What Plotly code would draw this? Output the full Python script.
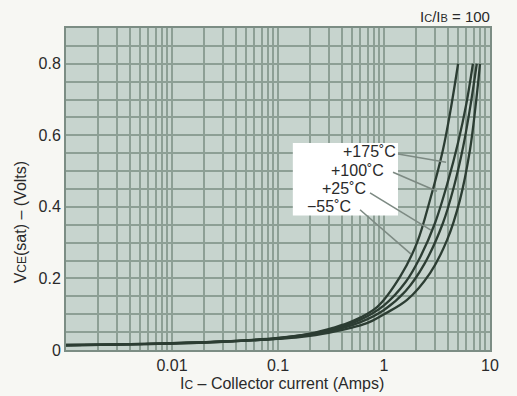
import plotly.graph_objects as go

# ---------------- data ----------------
temps = ["+175˚C", "+100˚C", "+25˚C", "−55˚C"]

ic_175 = [0.001, 0.003, 0.01, 0.03, 0.1, 0.2, 0.33, 0.5, 0.86, 1.42, 2.05, 2.72, 3.6, 4.3, 5.0]
vce_175 = [0.014, 0.016, 0.019, 0.024, 0.034, 0.046, 0.062, 0.08, 0.12, 0.205, 0.30, 0.42, 0.56, 0.68, 0.80]

ic_100 = [0.001, 0.003, 0.01, 0.03, 0.1, 0.3, 0.6, 1.0, 1.6, 2.2, 3.03, 4.0, 5.0, 6.0, 6.9]
vce_100 = [0.014, 0.016, 0.019, 0.024, 0.033, 0.055, 0.085, 0.125, 0.19, 0.26, 0.355, 0.47, 0.58, 0.69, 0.80]

ic_25 = [0.001, 0.003, 0.01, 0.03, 0.1, 0.3, 0.6, 1.0, 1.6, 2.4, 3.6, 4.6, 5.6, 6.6, 7.5]
vce_25 = [0.013, 0.015, 0.018, 0.023, 0.032, 0.052, 0.078, 0.112, 0.165, 0.24, 0.355, 0.46, 0.57, 0.69, 0.80]

ic_m55 = [0.001, 0.003, 0.01, 0.03, 0.1, 0.16, 0.3, 0.69, 1.0, 1.65, 2.72, 3.93, 5.2, 6.47, 7.3, 8.05]
vce_m55 = [0.013, 0.015, 0.018, 0.023, 0.031, 0.036, 0.048, 0.075, 0.10, 0.14, 0.215, 0.307, 0.419, 0.559, 0.68, 0.80]

# leader lines: (label-end point, curve point) in data units
leader_175 = ([1.355, 3.85], [0.548, 0.525])
leader_100 = ([1.216, 3.16], [0.497, 0.444])
leader_25 = ([0.738, 2.77], [0.439, 0.335])
leader_m55 = ([0.594, 1.80], [0.392, 0.268])

# ticks
decades = [0.001, 0.01, 0.1, 1]
x_grid = [m * d for d in decades for m in range(1, 10)] + [10]
x_major = [0.01, 0.1, 1, 10]
x_major_text = ["0.01", "0.1", "1", "10"]
x_text = [x_major_text[x_major.index(v)] if v in x_major else "" for v in x_grid]

y_grid = [round(0.05 * i, 2) for i in range(0, 19)]
y_major = [0, 0.2, 0.4, 0.6, 0.8]
y_major_text = ["0", "0.2", "0.4", "0.6", "0.8"]
y_text = [y_major_text[y_major.index(v)] if v in y_major else "" for v in y_grid]

# ---------------- figure ----------------
CURVE = "#2c3d33"
LEADER = "#7d8a83"
GRID = "#8d9f95"
BG = "#c7d4ce"
TXT = "#2a2a2a"
FONT = "Liberation Sans, Arial, sans-serif"

fig = go.Figure()

for xs, ys in [(ic_175, vce_175), (ic_100, vce_100), (ic_25, vce_25), (ic_m55, vce_m55)]:
    fig.add_trace(go.Scatter(x=xs, y=ys, mode="lines",
                             line=dict(color=CURVE, width=2.3, shape="spline", smoothing=1.0),
                             hoverinfo="skip", showlegend=False))

# white label box (above the grid)
fig.add_shape(type="rect", xref="paper", yref="paper",
              x0=0.535, x1=0.783, y0=0.418, y1=0.643,
              fillcolor="#ffffff", line=dict(width=0), layer="above")

# leader lines drawn on top of the box
for xs, ys in [leader_175, leader_100, leader_25, leader_m55]:
    fig.add_shape(type="line", xref="x", yref="y",
                  x0=xs[0], x1=xs[1], y0=ys[0], y1=ys[1],
                  line=dict(color=LEADER, width=1.6), layer="above")

label_pos = [(0.781, 0.615), (0.752, 0.559), (0.710, 0.503), (0.675, 0.447)]
for t, (px, py) in zip(temps, label_pos):
    fig.add_annotation(text=t, xref="paper", yref="paper", x=px, y=py,
                       xanchor="right", yanchor="middle", showarrow=False,
                       borderpad=0,
                       font=dict(family=FONT, size=16, color=TXT))

# axis titles / header as annotations
fig.add_annotation(text="I<span style='font-size:12px'>C</span> – Collector current (Amps)",
                   xref="paper", yref="paper", x=0.51, y=-0.103,
                   xanchor="center", yanchor="middle", showarrow=False,
                   font=dict(family=FONT, size=16, color=TXT))
fig.add_annotation(text="V<span style='font-size:12px'>CE</span>(sat) – (Volts)",
                   xref="paper", yref="paper", x=-0.108, y=0.397, textangle=-90,
                   xanchor="center", yanchor="middle", showarrow=False,
                   font=dict(family=FONT, size=16, color=TXT))
fig.add_annotation(text="I<span style='font-size:11px'>C</span>/I<span style='font-size:11px'>B</span> = 100",
                   xref="paper", yref="paper", x=1.005, y=1.035,
                   xanchor="right", yanchor="middle", showarrow=False,
                   font=dict(family=FONT, size=15, color=TXT))

fig.update_layout(
    width=517, height=396,
    margin=dict(l=66, r=27, t=28, b=46),
    paper_bgcolor="#f7f7f3",
    plot_bgcolor=BG,
    showlegend=False,
    hovermode=False,
    font=dict(family=FONT, size=15, color=TXT),
)
fig.update_xaxes(type="log", range=[-3, 1], tickmode="array",
                 tickvals=x_grid, ticktext=x_text,
                 showgrid=True, gridcolor=GRID, gridwidth=2.2,
                 showline=True, linecolor="#7c8d84", linewidth=2, mirror=True,
                 ticks="", zeroline=False, tickfont=dict(size=16, color=TXT))
fig.update_yaxes(range=[0, 0.9], tickmode="array",
                 tickvals=y_grid, ticktext=y_text,
                 showgrid=True, gridcolor=GRID, gridwidth=2.2,
                 showline=True, linecolor="#7c8d84", linewidth=2, mirror=True,
                 ticks="", zeroline=False, tickfont=dict(size=16, color=TXT))

fig.write_html("out.html", config={"displayModeBar": False})
